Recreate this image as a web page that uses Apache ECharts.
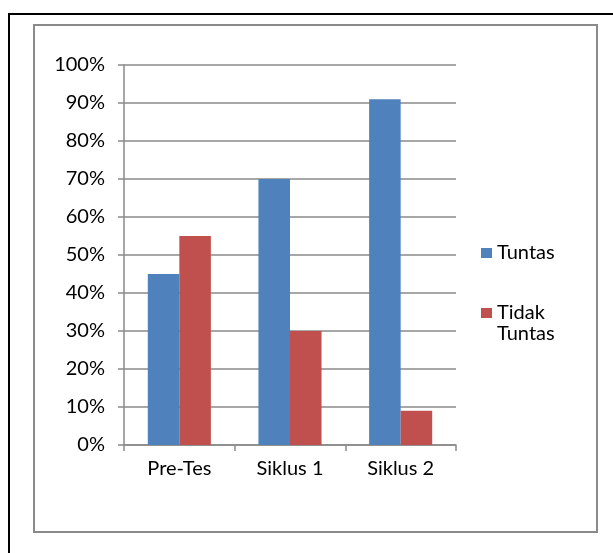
<!DOCTYPE html>
<html><head><meta charset="utf-8">
<script src="https://cdn.jsdelivr.net/npm/echarts@6/dist/echarts.min.js"></script>
<style>html,body{margin:0;padding:0;background:#fff}#c{width:613px;height:553px}</style>
</head><body><div id="c"></div>
<script>
const categories = ['Pre-Tes', 'Siklus 1', 'Siklus 2'];
const tuntas = [45, 70, 91];
const tidakTuntas = [55, 30, 9];
const seriesNames = ['Tuntas', 'Tidak Tuntas'];

const FONT = 'Lato';
const FS = 20;
const chart = echarts.init(document.getElementById('c'), null, {renderer: 'canvas'});
chart.setOption({
  animation: false,
  backgroundColor: '#fff',
  graphic: [
    {type: 'rect', shape: {x: 9, y: 14, width: 700, height: 700}, style: {fill: 'none', stroke: '#000', lineWidth: 2}},
    {type: 'rect', shape: {x: 34, y: 25, width: 563, height: 507}, style: {fill: 'none', stroke: '#8a8a8a', lineWidth: 2}}
  ],
  grid: {left: 124, right: 157, top: 65, bottom: 108, containLabel: false},
  legend: [
    {data: [seriesNames[0]], orient: 'vertical', left: 481, top: 242.5, padding: 0, itemWidth: 11, itemHeight: 10,
     icon: 'rect', textStyle: {fontFamily: FONT, fontSize: FS, color: '#000', lineHeight: 21}},
    {data: [seriesNames[1]], orient: 'vertical', left: 481, top: 281.5, padding: 0, itemWidth: 11, itemHeight: 10,
     icon: 'rect', formatter: n => '\n' + n.replace(' ', '\n'),
     textStyle: {fontFamily: FONT, fontSize: FS, color: '#000', lineHeight: 21}}
  ],
  xAxis: {
    type: 'category', data: categories,
    axisLine: {lineStyle: {color: '#8a8a8a', width: 1.5}},
    axisTick: {show: true, length: 6, lineStyle: {color: '#8a8a8a', width: 1.5}},
    axisLabel: {fontFamily: FONT, fontSize: FS, color: '#000', margin: 14}
  },
  yAxis: {
    type: 'value', min: 0, max: 100, interval: 10,
    axisLine: {show: true, lineStyle: {color: '#8a8a8a', width: 1.5}},
    axisTick: {show: true, length: 6, lineStyle: {color: '#8a8a8a', width: 1.5}},
    splitLine: {lineStyle: {color: '#8a8a8a', width: 1.5}},
    axisLabel: {fontFamily: FONT, fontSize: FS, color: '#000', margin: 19, formatter: '{value}%'}
  },
  series: [
    {name: seriesNames[0], type: 'bar', data: tuntas, barGap: '0%', barCategoryGap: '43%',
     itemStyle: {color: '#4F81BD'}},
    {name: seriesNames[1], type: 'bar', data: tidakTuntas, barGap: '0%', barCategoryGap: '43%',
     itemStyle: {color: '#C0504D'}}
  ]
});
</script></body></html>
